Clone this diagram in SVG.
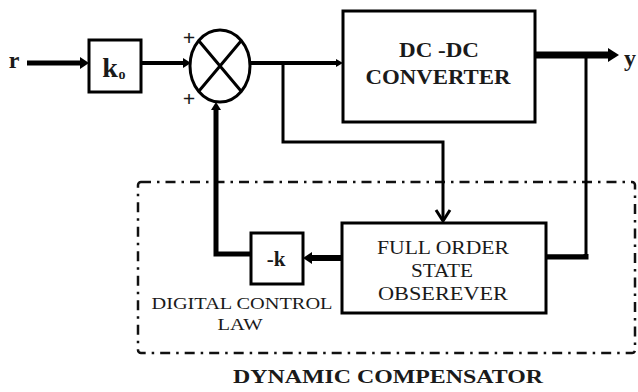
<svg xmlns="http://www.w3.org/2000/svg" width="638" height="392" viewBox="0 0 638 392">
<defs>
<style>
.box{fill:#fff;stroke:#000;stroke-width:3}
.t{font-family:"Liberation Serif","Times New Roman",serif;fill:#1a1a1a;text-anchor:middle}
.b{font-weight:bold}
.ln{fill:none;stroke:#000;stroke-linejoin:miter}
</style>
</defs>
<rect width="638" height="392" fill="#fff"/>

<g id="compensator">
<rect x="138" y="182" width="497" height="171" rx="3" fill="none" stroke="#111" stroke-width="2.5" stroke-dasharray="10,6,2.5,6"/>
<text class="t b" x="388" y="383" font-size="19" textLength="310" lengthAdjust="spacingAndGlyphs">DYNAMIC COMPENSATOR</text>
</g>

<g id="connectors">
<path class="ln" d="M27,63 L84,63" stroke-width="5"/>
<path d="M80,57 L89,63 L80,69 Z"/>
<path class="ln" d="M141,63 L184,63" stroke="#15202b" stroke-width="4"/>
<path d="M183,58 L191,63 L183,68 Z"/>
<path class="ln" d="M250,63 L337,63" stroke="#15202b" stroke-width="4"/>
<path d="M336,59 L343,63 L336,67 Z"/>
<path class="ln" d="M283,63 L283,142 L443,142 L443,219" stroke-width="3"/>
<path class="ln" d="M436,210 L443,221 L450,210" stroke-width="3"/>
<path class="ln" d="M535,55 L610,55" stroke-width="7"/>
<path d="M608,48 L619,55 L608,62 Z"/>
<path class="ln" d="M586,55 L586,256 L546,256" stroke-width="3"/>
<path class="ln" d="M586,254 L586,257 L547,257" stroke-width="5"/>
<path class="ln" d="M342,258 L310,258" stroke-width="6"/>
<path d="M312,252 L303,258 L312,264 Z"/>
<path class="ln" d="M251,254 L216,254 L216,108" stroke-width="5"/>
<path d="M211,110 L216,102 L221,110 Z"/>
</g>

<g id="r-label"><text class="t b" x="14" y="68" font-size="24">r</text></g>

<g id="k0">
<rect class="box" x="89" y="40" width="52" height="52"/>
<text class="t b" x="110" y="77" font-size="28">k</text>
<text class="t b" x="122" y="79" font-size="14">o</text>
</g>

<g id="sum">
<ellipse cx="220" cy="66" rx="30" ry="36" fill="#fff" stroke="#000" stroke-width="3"/>
<path class="ln" d="M199,41 L241,91 M241,41 L199,91" stroke-width="3"/>
<text class="t b" x="189" y="45" font-size="22">+</text>
<text class="t b" x="189" y="106" font-size="22">+</text>
</g>

<g id="dcdc">
<rect class="box" x="343" y="11" width="192" height="111"/>
<text class="t b" x="439" y="57" font-size="21" textLength="80" lengthAdjust="spacingAndGlyphs">DC -DC</text>
<text class="t b" x="438" y="84" font-size="21" textLength="145" lengthAdjust="spacingAndGlyphs">CONVERTER</text>
</g>

<g id="y-label"><text class="t b" x="630" y="66" font-size="24">y</text></g>

<g id="observer">
<rect class="box" x="342" y="223" width="204" height="90"/>
<text class="t" x="443" y="254" font-size="19" textLength="132" lengthAdjust="spacingAndGlyphs">FULL ORDER</text>
<text class="t" x="442" y="277" font-size="19" textLength="62" lengthAdjust="spacingAndGlyphs">STATE</text>
<text class="t" x="443" y="300" font-size="19" textLength="130" lengthAdjust="spacingAndGlyphs">OBSEREVER</text>
</g>

<g id="gain">
<rect class="box" x="251" y="233" width="52" height="51"/>
<text class="t b" x="276" y="266" font-size="21">-k</text>
</g>

<g id="law-label">
<text class="t" x="242" y="309" font-size="17" textLength="181" lengthAdjust="spacingAndGlyphs">DIGITAL CONTROL</text>
<text class="t" x="240" y="330" font-size="17" textLength="45" lengthAdjust="spacingAndGlyphs">LAW</text>
</g>
</svg>
